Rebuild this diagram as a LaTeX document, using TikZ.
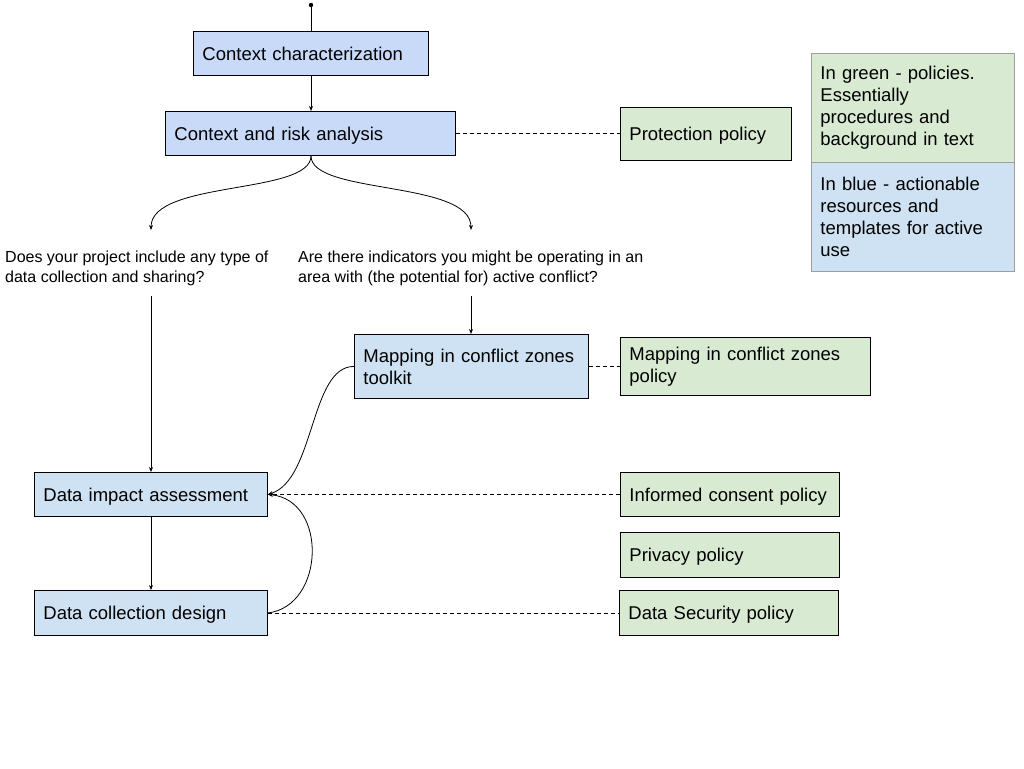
\documentclass[tikz,border=0pt]{standalone}
\usepackage{fontspec}
\setmainfont{Liberation Sans}
\usetikzlibrary{arrows.meta}
\definecolor{blueA}{HTML}{C9DAF8}
\definecolor{blueB}{HTML}{CFE2F3}
\definecolor{greenA}{HTML}{D9EAD3}
\definecolor{legline}{HTML}{9E9E9E}
\tikzset{
  box/.style={draw=black, line width=0.9pt, anchor=north west, align=left, inner xsep=9pt, inner ysep=0pt,
    font=\fontsize{18.5}{22}\selectfont},
  oneline/.style={text depth=0pt},
  bluebox/.style={box, fill=blueB},
  darkbluebox/.style={box, fill=blueA},
  greenbox/.style={box, fill=greenA},
  legbox/.style={box, draw=legline, anchor=north west},
  question/.style={anchor=north west, align=left, inner sep=0pt, font=\fontsize{16}{20}\selectfont},
  conn/.style={line width=0.8pt, -{Stealth[length=5pt,width=4pt]}},
  dashconn/.style={line width=0.8pt, dashed, dash pattern=on 4pt off 3pt},
}
\begin{document}
\begin{tikzpicture}[x=1pt,y=-1pt]
\useasboundingbox (0,0) rectangle (1024,768);
\fill[white] (0,0) rectangle (1024,768);

% blue boxes
\node[darkbluebox, oneline, text width=217pt, minimum height=44pt] (cc) at (193,31) {Context characterization};
\node[darkbluebox, oneline, text width=272pt, minimum height=44pt] (cr) at (165,111) {Context and risk analysis};
\node[bluebox, text width=216pt, minimum height=64pt] (mt) at (354,334) {Mapping in conflict zones\\toolkit};
\node[bluebox, oneline, text width=215pt, minimum height=44pt] (di) at (34,472) {Data impact assessment};
\node[bluebox, oneline, text width=215pt, minimum height=45pt] (dc) at (34,590) {Data collection design};

% green boxes
\node[greenbox, oneline, text width=153pt, minimum height=53pt] (pp) at (620,107) {Protection policy};
\node[greenbox, text width=232pt, minimum height=58pt] (mp) at (620,337) {Mapping in conflict zones\\policy};
\node[greenbox, oneline, text width=201pt, minimum height=44pt] (ic) at (620,472) {Informed consent policy};
\node[greenbox, oneline, text width=201pt, minimum height=45pt] (pv) at (620,532) {Privacy policy};
\node[greenbox, oneline, text width=201pt, minimum height=45pt] (ds) at (619,590) {Data Security policy};

% legend
\node[legbox, fill=greenA, text width=185pt, minimum height=109pt] (lg) at (811,53) {In green - policies.\\Essentially\\procedures and\\background in text};
\node[legbox, fill=blueB, text width=185pt, minimum height=109pt] (lb) at (811,162) {In blue - actionable\\resources and\\templates for active\\use};

% questions
\node[question] (q1) at (5,250.5) {Does your project include any type of\\data collection and sharing?};
\node[question] (q2) at (298,250.5) {Are there indicators you might be operating in an\\area with (the potential for) active conflict?};
\coordinate (q1top) at (151,230);
\coordinate (q1bot) at (151,296);
\coordinate (q2top) at (471,230);
\coordinate (q2bot) at (471,296);

% start point
\coordinate (start) at (311,5);
\fill (start) circle (2.2pt);
\draw[line width=0.8pt] (start) -- (cc.north -| start);

% connectors
\draw[conn] (cc.south -| start) -- (cr.north -| start);
\draw[conn] (cr.south -| start) .. controls (311,195) and (151,180) .. (q1top);
\draw[conn] (cr.south -| start) .. controls (311,195) and (471,180) .. (q2top);
\draw[conn] (q1bot) -- (di.north -| q1bot);
\draw[conn] (q2bot) -- (mt.north -| q2bot);
\draw[conn] (di.south -| q1bot) -- (dc.north -| q1bot);
\draw[conn] (mt.west) .. controls (310,366) and (315,480) .. (di.east);
\draw[conn] (dc.east) .. controls (325,606) and (328,500) .. (di.east);

% dashed links
\draw[dashconn] (cr.east) -- (pp.west |- cr.east);
\draw[dashconn] (mt.east) -- (mp.west |- mt.east);
\draw[dashconn] (ic.west) -- (di.east);
\draw[dashconn] (dc.east) -- (ds.west |- dc.east);
\end{tikzpicture}
\end{document}
